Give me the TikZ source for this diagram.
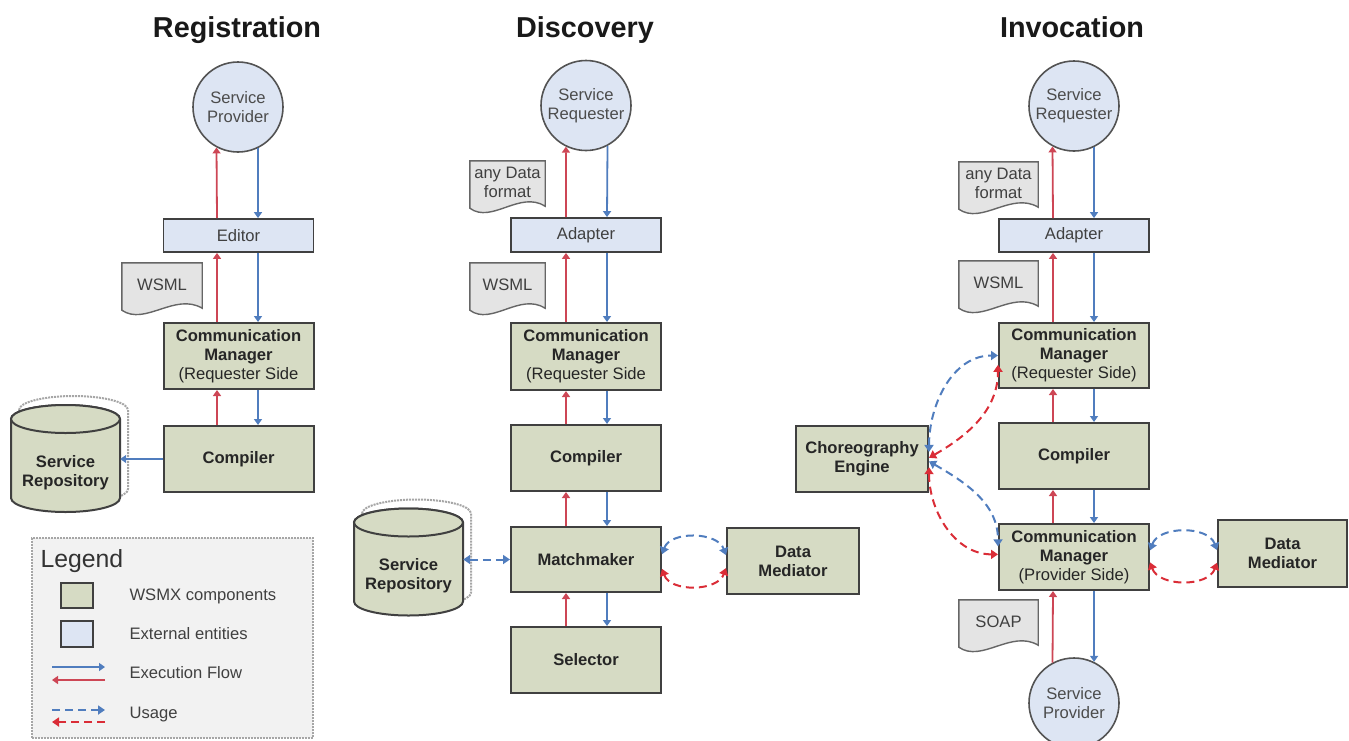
\documentclass[tikz,border=0pt]{standalone}
\usepackage{fontspec}
\setmainfont{Liberation Sans}
\usepackage{tikz}
\usetikzlibrary{arrows.meta,positioning,calc,backgrounds}
\definecolor{wsmxfill}{RGB}{214,219,196}
\definecolor{extfill}{RGB}{221,229,243}
\definecolor{docfill}{RGB}{228,228,228}
\definecolor{legendfill}{RGB}{242,242,242}
\definecolor{boxline}{RGB}{64,64,64}
\definecolor{flowred}{RGB}{205,70,85}
\definecolor{flowblue}{RGB}{80,125,190}
\definecolor{usagered}{RGB}{218,45,55}
\newcommand{\boxfont}{\fontsize{16.6}{19}\selectfont}
\newcommand{\headingfont}{\fontsize{28.8}{32}\selectfont\bfseries}
\newcommand{\legendfont}{\fontsize{24.8}{28}\selectfont}
\tikzset{
  heading/.style    = {font=\headingfont, text=black!90, anchor=base},
  wsmx/.style       = {rectangle, draw=boxline, fill=wsmxfill, line width=2pt, inner sep=0pt,
                       minimum width=150pt, minimum height=66pt, align=center,
                       font=\boxfont\bfseries, text=black!85},
  extbox/.style     = {rectangle, draw=boxline, fill=extfill, line width=1.8pt, inner sep=0pt,
                       minimum width=150pt, minimum height=33pt, font=\boxfont, text=black!75},
  extcirc/.style    = {circle, draw=boxline!90, fill=extfill, line width=1.6pt, inner sep=0pt,
                       minimum size=90pt, align=center, font=\boxfont, text=black!70},
  docbox/.style     = {rectangle, inner sep=0pt, minimum height=43pt, align=center,
                       font=\boxfont, text=black!75},
  docline/.style    = {draw=boxline!80, fill=docfill, line width=1.4pt},
  repobody/.style   = {draw=boxline, fill=wsmxfill, line width=2pt},
  reposhadow/.style = {draw=gray!70, densely dotted, fill=white, line width=2pt},
  repotext/.style   = {rectangle, inner sep=0pt, minimum width=109pt, minimum height=79pt,
                       align=center, font=\boxfont\bfseries, text=black!85},
  flowup/.style     = {draw=flowred, line width=1.8pt, -{Triangle[width=8pt,length=6pt]}},
  flowdown/.style   = {draw=flowblue, line width=1.8pt, -{Triangle[width=8pt,length=6pt]}},
  useblue/.style    = {draw=flowblue, line width=2pt, dash pattern=on 8pt off 5pt,
                       {Triangle[width=9pt,length=7pt]}-{Triangle[width=9pt,length=7pt]}},
  usered/.style     = {draw=usagered, line width=2pt, dash pattern=on 8pt off 5pt,
                       {Triangle[width=9pt,length=7pt]}-{Triangle[width=9pt,length=7pt]}},
  legendbox/.style  = {rectangle, draw=gray!70, densely dotted, line width=2pt, fill=legendfill, inner sep=0pt},
  legendtext/.style = {anchor=west, font=\boxfont, text=black!75}
}
% document sheet with a wavy lower edge: name, x, y, width, text
\newcommand{\docnode}[5]{%
  \node[docbox, minimum width=#4pt] (#1) at (#2,#3) {#5};
  \begin{scope}[on background layer]
    \draw[docline] (#1.north west) -- (#1.north east) -- ([yshift=-2pt]#1.south east)
      .. controls ([xshift={-0.34*#4pt}, yshift=14pt]#1.south east)
             and ([xshift={0.29*#4pt}, yshift=-20pt]#1.south west)
      .. ([yshift=-4pt]#1.south west) -- cycle;
  \end{scope}}
% stacked cylinder: name, x, y
\newcommand{\repo}[3]{%
  \begin{scope}[shift={(#2+8,#3-9)}]
    \draw[reposhadow] (-54.5,-39.5) -- (-54.5,39.5)
      arc[start angle=180, end angle=360, x radius=54.5pt, y radius=14pt]
      -- (54.5,-39.5)
      arc[start angle=0, end angle=180, x radius=54.5pt, y radius=14pt] -- cycle;
  \end{scope}
  \begin{scope}[shift={(#2,#3)}]
    \draw[repobody] (-54.5,-39.5) -- (-54.5,39.5)
      arc[start angle=180, end angle=360, x radius=54.5pt, y radius=14pt]
      -- (54.5,-39.5)
      arc[start angle=0, end angle=180, x radius=54.5pt, y radius=14pt] -- cycle;
    \draw[repobody] (0,-39.5) ellipse[x radius=54.5pt, y radius=14pt];
  \end{scope}
  \node[repotext] (#1) at (#2,#3+14) {Service\\Repository};}

\begin{document}
\begin{tikzpicture}[x=1pt, y=-1pt]
    \useasboundingbox (0,0) rectangle (1349,740);
    % Registration
    \node[heading] (regHead) at (237,37) {Registration};
    \node[extcirc] (regSP) at (238,107) {Service\\Provider};
    \node[extbox] (regEd) at (238.5,235.5) {Editor};
    \docnode{regDoc}{162}{284.5}{80}{WSML}
    \node[wsmx] (regCM) at (238.5,356) {Communication\\Manager\\{\mdseries (Requester Side}};
    \node[wsmx] (regComp) at (238.5,459) {Compiler};
    \repo{regRepo}{65.5}{458.5}
    \coordinate (regRx) at (217,0);
    \coordinate (regBx) at (258,0);
    \draw[flowup] (regEd.north -| regRx) -- (regSP.242);
    \draw[flowdown] (regSP.296) -- (regEd.north -| regBx);
    \draw[flowup] (regCM.north -| regRx) -- (regEd.south -| regRx);
    \draw[flowdown] (regEd.south -| regBx) -- (regCM.north -| regBx);
    \draw[flowup] (regComp.north -| regRx) -- (regCM.south -| regRx);
    \draw[flowdown] (regCM.south -| regBx) -- (regComp.north -| regBx);
    \draw[flowdown] (regComp.west) -- (regComp.west -| regRepo.east);
    % Legend
    \node[legendbox, minimum width=281pt, minimum height=200pt] (legend) at (172.5,638) {};
    \node[anchor=west, font=\legendfont, text=black!80] (legHead) at (37,561) {Legend};
    \node[wsmx, minimum width=32pt, minimum height=25pt] (legWsmx) at (77,595.5) {};
    \node[legendtext] (legWsmxText) at (126,596) {WSMX components};
    \node[extbox, minimum width=32pt, minimum height=26pt] (legExt) at (77,634) {};
    \node[legendtext] (legExtText) at (126,634) {External entities};
    \coordinate (legFlowL) at (52,667);
    \coordinate (legFlowR) at (105,667);
    \coordinate (legBackL) at (52,680);
    \coordinate (legBackR) at (105,680);
    \draw[flowdown] (legFlowL) -- (legFlowR);
    \draw[flowup] (legBackR) -- (legBackL);
    \node[legendtext] (legFlowText) at (126,673) {Execution Flow};
    \coordinate (legUseL) at (52,710);
    \coordinate (legUseR) at (105,710);
    \coordinate (legUseBackL) at (52,722);
    \coordinate (legUseBackR) at (105,722);
    \draw[flowblue, line width=2pt, dash pattern=on 8pt off 5pt, -{Triangle[width=9pt,length=7pt]}] (legUseL) -- (legUseR);
    \draw[usagered, line width=2pt, dash pattern=on 8pt off 5pt, -{Triangle[width=9pt,length=7pt]}] (legUseBackR) -- (legUseBackL);
    \node[legendtext] (legUseText) at (126,714) {Usage};
    % Discovery
    \node[heading] (discHead) at (585,37) {Discovery};
    \node[extcirc] (discSR) at (586,105.5) {Service\\Requester};
    \docnode{discFmt}{507.5}{182.5}{75}{any Data\\format}
    \node[extbox, minimum height=34pt] (discAd) at (586,235) {Adapter};
    \docnode{discDoc}{507.5}{284.5}{75}{WSML}
    \node[wsmx, minimum height=67pt] (discCM) at (586,356.5) {Communication\\Manager\\{\mdseries (Requester Side}};
    \node[wsmx] (discComp) at (586,458) {Compiler};
    \node[wsmx, minimum height=65pt] (discMM) at (586,559.5) {Matchmaker};
    \node[wsmx] (discSel) at (586,660) {Selector};
    \node[wsmx, minimum width=132pt] (discDM) at (793,561) {Data\\Mediator};
    \repo{discRepo}{408.5}{562}
    \coordinate (discRx) at (566,0);
    \coordinate (discBx) at (607,0);
    \draw[flowup] (discAd.north -| discRx) -- (discSR.244);
    \draw[flowdown] (discSR.298) -- (discAd.north -| discBx);
    \draw[flowup] (discCM.north -| discRx) -- (discAd.south -| discRx);
    \draw[flowdown] (discAd.south -| discBx) -- (discCM.north -| discBx);
    \draw[flowup] (discComp.north -| discRx) -- (discCM.south -| discRx);
    \draw[flowdown] (discCM.south -| discBx) -- (discComp.north -| discBx);
    \draw[flowup] (discMM.north -| discRx) -- (discComp.south -| discRx);
    \draw[flowdown] (discComp.south -| discBx) -- (discMM.north -| discBx);
    \draw[flowup] (discSel.north -| discRx) -- (discMM.south -| discRx);
    \draw[flowdown] (discMM.south -| discBx) -- (discSel.north -| discBx);
    \draw[useblue] (discMM.west -| discRepo.east) -- (discMM.west);
    \draw[useblue] (discMM.4) to[out=70, in=110] (discDM.175);
    \draw[usered] (discMM.353) to[out=-70, in=-110] (discDM.186);
    % Invocation
    \node[heading] (invHead) at (1072,37) {Invocation};
    \node[extcirc] (invSR) at (1074,106) {Service\\Requester};
    \docnode{invFmt}{998.5}{183.5}{79}{any Data\\format}
    \node[extbox] (invAd) at (1074,235.5) {Adapter};
    \docnode{invDoc}{998.5}{282.5}{79}{WSML}
    \node[wsmx, minimum height=65pt] (invCMR) at (1074,355.5) {Communication\\Manager\\{\mdseries (Requester Side)}};
    \node[wsmx] (invComp) at (1074,456) {Compiler};
    \node[wsmx, minimum width=132pt] (invChor) at (862,459) {Choreography\\Engine};
    \node[wsmx] (invCMP) at (1074,557) {Communication\\Manager\\{\mdseries (Provider Side)}};
    \node[wsmx, minimum width=129pt, minimum height=67pt] (invDM) at (1282.5,553.5) {Data\\Mediator};
    \docnode{invSoap}{998.5}{621.5}{79}{SOAP}
    \node[extcirc] (invSP) at (1074,703) {Service\\Provider};
    \coordinate (invRx) at (1053,0);
    \coordinate (invBx) at (1094,0);
    \draw[flowup] (invAd.north -| invRx) -- (invSR.242);
    \draw[flowdown] (invSR.296) -- (invAd.north -| invBx);
    \draw[flowup] (invCMR.north -| invRx) -- (invAd.south -| invRx);
    \draw[flowdown] (invAd.south -| invBx) -- (invCMR.north -| invBx);
    \draw[flowup] (invComp.north -| invRx) -- (invCMR.south -| invRx);
    \draw[flowdown] (invCMR.south -| invBx) -- (invComp.north -| invBx);
    \draw[flowup] (invCMP.north -| invRx) -- (invComp.south -| invRx);
    \draw[flowdown] (invComp.south -| invBx) -- (invCMP.north -| invBx);
    \draw[flowup] (invSP.118) -- (invCMP.south -| invRx);
    \draw[flowdown] (invCMP.south -| invBx) -- (invSP.64);
    % Usage around the choreography engine
    \draw[useblue] (invChor.6) to[out=90, in=180] (invCMR.180);
    \draw[usered] (invChor.1) to[out=30, in=270] (invCMR.187);
    \draw[useblue] (invChor.358) to[out=-30, in=90] (invCMP.172);
    \draw[usered] (invChor.353) to[out=-90, in=180] (invCMP.178);
    \draw[useblue] (invCMP.5) to[out=70, in=110] (invDM.177);
    \draw[usered] (invCMP.356) to[out=-70, in=-110] (invDM.188);
\end{tikzpicture}
\end{document}
